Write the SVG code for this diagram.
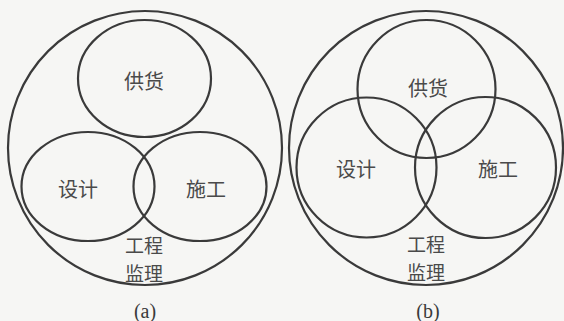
<svg xmlns="http://www.w3.org/2000/svg" width="564" height="321" viewBox="0 0 564 321">
<style>
.c{fill:none;stroke:#3a3a3a;stroke-width:2.2}
.t{font-family:"Noto Sans CJK SC",sans-serif;font-size:20px;fill:#4a4a4a;text-anchor:middle;dominant-baseline:central}
.s{font-size:19px}
.cap{font-family:"Liberation Serif",serif;font-size:20px;fill:#3a3a3a;text-anchor:middle}
</style>
<rect width="564" height="321" fill="#f6f6f4"/>
<g id="diagram-a">
<g id="a-outer"><circle class="c" cx="145" cy="148" r="137"/></g>
<g id="a-supply"><ellipse class="c" cx="144.5" cy="78.5" rx="66.5" ry="58.5"/><text class="t" x="144" y="80">供货</text></g>
<g id="a-design"><ellipse class="c" cx="88" cy="186.5" rx="66.5" ry="54.5"/><text class="t" x="78" y="188">设计</text></g>
<g id="a-build"><ellipse class="c" cx="200" cy="186.5" rx="66.5" ry="54.5"/><text class="t" x="206" y="188">施工</text></g>
<g id="a-super"><text class="t s" x="144" y="244">工程<tspan x="144" dy="28">监理</tspan></text></g>
<text class="cap" x="145" y="318">(a)</text>
</g>
<g id="diagram-b">
<g id="b-outer"><circle class="c" cx="426" cy="148" r="137"/></g>
<g id="b-supply"><circle class="c" cx="426.5" cy="89" r="69"/><text class="t" x="428" y="87">供货</text></g>
<g id="b-design"><circle class="c" cx="366.5" cy="167.5" r="70"/><text class="t" x="356" y="168">设计</text></g>
<g id="b-build"><circle class="c" cx="485.5" cy="167.5" r="70.5"/><text class="t" x="498" y="168">施工</text></g>
<g id="b-super"><text class="t s" x="426" y="243">工程<tspan x="426" dy="28">监理</tspan></text></g>
<text class="cap" x="428" y="318">(b)</text>
</g>
<g id="connectors"/>
</svg>
